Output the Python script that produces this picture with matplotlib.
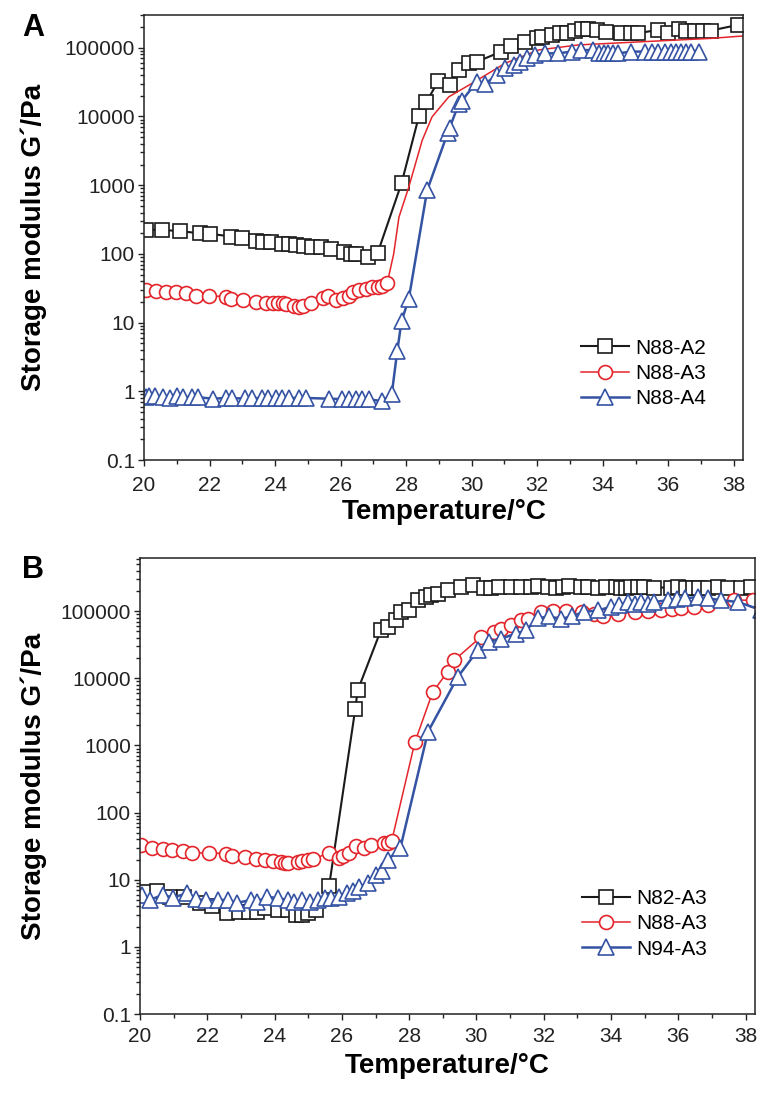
import matplotlib
matplotlib.use('Agg')
import matplotlib.pyplot as plt
from matplotlib.ticker import LogLocator, MultipleLocator, FuncFormatter, NullFormatter

plt.rcParams['font.family'] = ['Liberation Sans', 'DejaVu Sans']

# ---- panel A ----
a2_t = [20.06, 20.55, 21.09, 21.70, 22.01, 22.67, 22.98, 23.43, 23.62, 23.89, 24.22, 24.41,
        24.65, 24.89, 25.14, 25.41, 25.71, 26.11, 26.32, 26.47, 26.84, 27.13, 27.86, 28.39,
        28.62, 28.98, 29.33, 29.60, 29.91, 30.16, 30.90, 31.20, 31.63, 31.98, 32.14, 32.44,
        32.70, 32.90, 33.15, 33.37, 33.54, 33.81, 34.11, 34.57, 34.87, 35.08, 35.68, 35.99,
        36.34, 36.54, 36.80, 37.05, 37.30, 38.12]
a2_g = [224, 224, 214, 200, 196, 179, 169, 156, 148, 148, 140, 140,
        135, 132, 128, 128, 118, 105, 100, 98, 91, 103, 1070, 10100,
        16300, 32700, 28600, 47400, 59400, 62700, 87700, 106000, 123000, 137000, 145000, 154000,
        163000, 166000, 176000, 186000, 190000, 182000, 168000, 163000, 163000, 163000, 182000, 163000,
        186000, 178000, 178000, 178000, 178000, 215000]

a3_t = [20.06, 20.36, 20.67, 20.97, 21.28, 21.60, 21.99, 22.51, 22.66, 23.02, 23.42, 23.73,
        23.93, 24.08, 24.24, 24.34, 24.59, 24.74, 24.84, 25.10, 25.45, 25.63, 25.86, 26.06,
        26.26, 26.38, 26.57, 26.77, 26.95, 27.15, 27.27, 27.42,
        27.62, 27.78, 28.08, 28.49, 28.79, 29.30, 30.00, 31.02, 32.04, 33.25, 35.28, 37.30, 38.40]
a3_g = [29.8, 28.5, 27.5, 27.5, 26.6, 24.6, 24.6, 23.8, 22.0, 21.3, 20.1, 19.0,
        19.0, 19.0, 19.0, 18.6, 17.6, 17.0, 17.6, 19.0, 22.8, 24.6, 21.3, 22.8,
        24.6, 27.5, 29.8, 30.8, 33.3, 33.3, 34.4, 37.2,
        100, 342, 938, 4500, 9860, 19300, 30200, 59400, 92900, 110000, 123000, 137000, 150000]
a3_nmark = 32

a4_t = [20.05, 20.15, 20.33, 20.58, 20.80, 21.00, 21.20, 21.45, 21.65, 22.10, 22.50, 22.70,
        23.07, 23.31, 23.59, 23.77, 24.04, 24.22, 24.44, 24.74, 24.95, 25.65, 26.05, 26.26,
        26.47, 26.66, 26.87, 27.27, 27.56, 27.73, 27.86, 28.08, 28.64, 29.27, 29.33, 29.60,
        29.70, 30.16, 30.41, 30.77, 31.02, 31.28, 31.48, 31.68, 31.94, 32.24, 32.64, 33.05,
        33.35, 33.70, 33.90, 34.05, 34.16, 34.30, 34.47, 34.87, 35.28, 35.50, 35.68, 35.90,
        36.09, 36.25, 36.39, 36.55, 36.70, 36.95]
a4_g = [0.82, 0.84, 0.85, 0.82, 0.80, 0.84, 0.83, 0.82, 0.82, 0.78, 0.80, 0.79,
        0.79, 0.80, 0.79, 0.80, 0.80, 0.79, 0.80, 0.80, 0.80, 0.78, 0.77, 0.78,
        0.78, 0.77, 0.76, 0.72, 0.90, 3.9, 10.6, 22, 840, 5800, 6900, 15000,
        17000, 32000, 30000, 40000, 50000, 56000, 63000, 70000, 78500, 83000, 83000, 88000,
        92600, 92600, 85000, 84000, 83000, 83000, 83000, 88000, 88000, 88000, 88000, 88000,
        88000, 88000, 88000, 88000, 88000, 88000]

# ---- panel B ----
b82_t = [20.12, 20.52, 20.90, 21.30, 21.77, 22.13, 22.59, 22.93, 23.23, 23.48, 23.72, 24.09,
         24.40, 24.63, 24.82, 25.00, 25.24, 25.62, 26.40, 26.47, 27.16, 27.36, 27.60, 27.75,
         28.00, 28.25, 28.50, 28.65, 28.85, 29.14, 29.54, 29.89, 30.23, 30.43, 30.68, 31.03,
         31.32, 31.62, 31.83, 32.13, 32.37, 32.57, 32.75, 33.11, 33.32, 33.62, 33.85, 34.15,
         34.30, 34.45, 34.60, 34.81, 34.99, 35.28, 35.79, 35.99, 36.23, 36.44, 36.62, 36.89,
         37.19, 37.48, 37.86, 38.17]
b82_g = [6.5, 6.9, 5.6, 5.6, 4.5, 4.1, 3.2, 3.35, 3.35, 3.35, 3.8, 3.5,
         3.5, 3.0, 3.0, 3.2, 3.5, 8.0, 3530, 6600, 52000, 58000, 73500, 97600,
         103000, 146000, 163000, 173000, 183000, 206000, 231000, 245000, 218000, 218000, 231000, 231000,
         231000, 228000, 236000, 231000, 225000, 231000, 236000, 231000, 228000, 225000, 231000, 231000,
         225000, 225000, 231000, 228000, 231000, 225000, 225000, 228000, 225000, 225000, 225000, 225000,
         231000, 225000, 225000, 231000]

b88_t = [20.04, 20.37, 20.67, 20.95, 21.28, 21.56, 22.04, 22.56, 22.72, 23.11, 23.45, 23.72,
         23.96, 24.18, 24.30, 24.39, 24.70, 24.82, 24.98, 25.15, 25.63, 25.91, 26.04, 26.22,
         26.43, 26.65, 26.87, 27.26, 27.38, 27.48, 28.17, 28.70, 29.14, 29.34, 30.13, 30.53,
         30.73, 31.03, 31.32, 31.52, 31.91, 32.28, 32.65, 33.14, 33.50, 33.76, 34.20, 34.70,
         35.10, 35.49, 35.80, 36.09, 36.48, 36.88, 37.67, 38.22]
b88_g = [32.4, 29.9, 28.8, 28.2, 26.6, 25.1, 25.1, 24.5, 22.9, 21.9, 20.4, 20.0,
         18.8, 18.4, 17.8, 17.8, 18.2, 18.8, 20.0, 20.4, 25.1, 21.1, 22.9, 25.1,
         31.6, 29.9, 32.4, 34.7, 35.5, 37.6, 1120, 6250, 12400, 18600, 41300, 49100,
         55100, 61900, 73400, 77800, 96000, 102000, 102000, 96000, 90000, 86000, 92000, 97600,
         100000, 103000, 106000, 110000, 116000, 123000, 146000, 146000]

b94_t = [20.06, 20.30, 20.67, 20.98, 21.40, 21.65, 21.95, 22.32, 22.62, 22.87, 23.29, 23.48,
         23.78, 24.09, 24.39, 24.57, 24.82, 25.06, 25.30, 25.49, 25.67, 25.91, 26.16, 26.34,
         26.52, 26.77, 27.01, 27.20, 27.38, 27.74, 28.56, 29.44, 30.04, 30.38, 30.73, 31.18,
         31.47, 31.82, 32.15, 32.52, 32.85, 33.21, 33.61, 34.00, 34.25, 34.50, 34.70, 34.90,
         35.10, 35.29, 35.69, 35.95, 36.19, 36.58, 36.88, 37.28, 37.77, 38.45]
b94_g = [5.96, 5.0, 5.96, 5.4, 6.3, 5.1, 5.0, 5.0, 5.0, 4.5, 5.0, 4.7,
         5.6, 5.3, 5.0, 4.7, 5.0, 4.7, 5.0, 5.3, 5.3, 5.6, 6.3, 6.7,
         7.9, 8.9, 11.9, 13.3, 20.0, 29.9, 1600, 10400, 26200, 34800, 39100, 46400,
         52000, 78000, 84000, 76500, 85000, 97600, 103000, 116000, 125000, 137000, 130000, 137000,
         130000, 137000, 146000, 150000, 155000, 163000, 155000, 146000, 137000, 105000]

black = '#1a1a1a'
red = '#e3252b'
blue = '#3553a3'

fig = plt.figure(figsize=(7.73, 10.98), dpi=100)
axA = fig.add_axes([144 / 773, 1 - 460 / 1098, 599 / 773, 445 / 1098])
axB = fig.add_axes([140 / 773, 1 - 1014 / 1098, 615 / 773, 456 / 1098])

mk = dict(markerfacecolor='white', markersize=10, markeredgewidth=1.2)
mk_tri = dict(markerfacecolor='white', markersize=11, markeredgewidth=1.2)

axA.plot(a2_t, a2_g, '-s', color=black, lw=1.5, label='N88-A2', **mk)
axA.plot(a3_t, a3_g, '-o', color=red, lw=1.1, label='N88-A3',
         markevery=list(range(a3_nmark)), **mk)
axA.plot(a4_t, a4_g, '-^', color=blue, lw=1.8, label='N88-A4', **mk_tri)
axA.set_ylim(0.1, 3e5)

axB.plot(b82_t, b82_g, '-s', color=black, lw=1.5, label='N82-A3', **mk)
axB.plot(b88_t, b88_g, '-o', color=red, lw=1.1, label='N88-A3', **mk)
axB.plot(b94_t, b94_g, '-^', color=blue, lw=1.8, label='N94-A3', **mk_tri)
axB.set_ylim(0.1, 6.2e5)

for ax, lx, ly, xpad in ((axA, 0.953, 0.098, 7), (axB, 0.936, 0.103, 5)):
    ax.set_yscale('log')
    ax.set_xlim(20, 38.28)
    ax.xaxis.set_major_locator(MultipleLocator(2))
    ax.xaxis.set_minor_locator(MultipleLocator(1))
    ax.yaxis.set_major_locator(LogLocator(base=10, numticks=20))
    ax.yaxis.set_minor_locator(LogLocator(base=10, subs=range(2, 10), numticks=20))
    ax.yaxis.set_major_formatter(FuncFormatter(lambda v, p: '%g' % v))
    ax.yaxis.set_minor_formatter(NullFormatter())
    ax.tick_params(which='both', direction='out', width=1, colors='#222222', labelsize=15)
    ax.tick_params(which='major', length=4.5)
    ax.tick_params(which='minor', length=2.8)
    ax.tick_params(axis='x', pad=xpad)
    ax.tick_params(axis='y', pad=2)
    for s in ax.spines.values():
        s.set_linewidth(1.1)
        s.set_color('#222222')
    ax.legend(loc='lower right', bbox_to_anchor=(lx, ly), frameon=False, fontsize=15,
              handlelength=2.3, handletextpad=0.3, labelspacing=0.3, borderaxespad=0)

# axis labels and panel letters
fig.text(34 / 773, 1 - 237 / 1098, 'Storage modulus G\u00b4/Pa', rotation=90,
         ha='center', va='center', fontsize=20, fontweight='bold')
fig.text(34 / 773, 1 - 786 / 1098, 'Storage modulus G\u00b4/Pa', rotation=90,
         ha='center', va='center', fontsize=20, fontweight='bold')
fig.text(444 / 773, 1 - 512 / 1098, 'Temperature/\u00b0C', ha='center', va='center',
         fontsize=20, fontweight='bold')
fig.text(447 / 773, 1 - 1066 / 1098, 'Temperature/\u00b0C', ha='center', va='center',
         fontsize=20, fontweight='bold')
fig.text(33 / 773, 1 - 28 / 1098, 'A', ha='center', va='center', fontsize=22, fontweight='bold')
fig.text(33 / 773, 1 - 570 / 1098, 'B', ha='center', va='center', fontsize=22, fontweight='bold')

fig.savefig('out.png', dpi=100)
